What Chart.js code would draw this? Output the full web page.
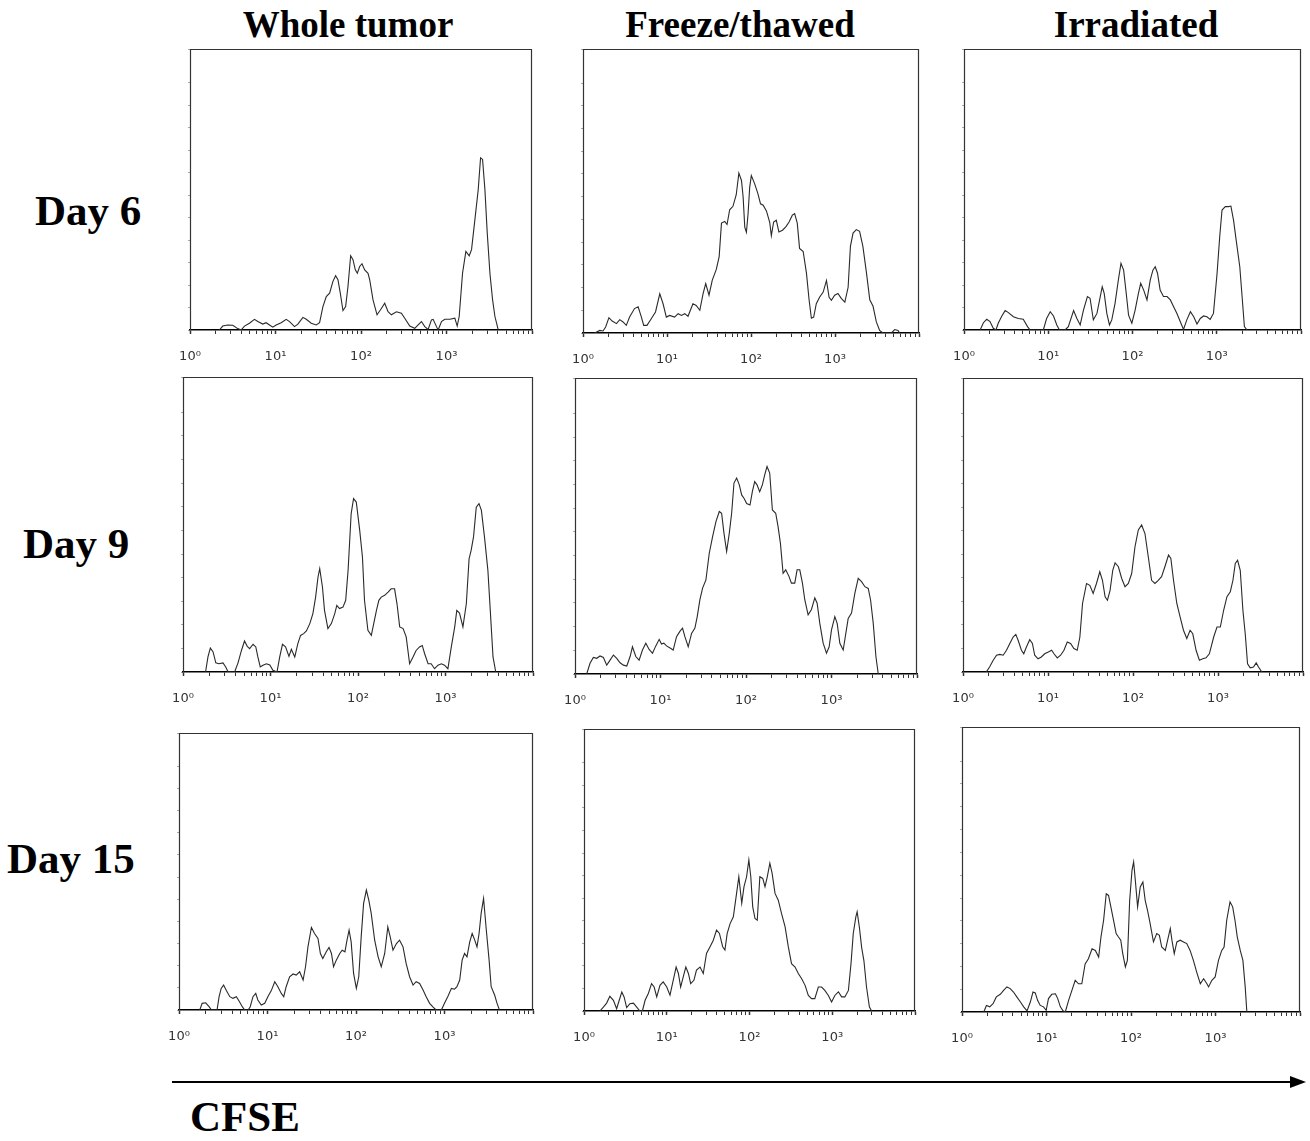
<!DOCTYPE html>
<html>
<head>
<meta charset="utf-8">
<title>CFSE dilution histograms</title>
<script src="https://cdn.jsdelivr.net/npm/chart.js@4.4.1/dist/chart.umd.min.js"></script>
<style>
  html, body { margin: 0; padding: 0; background: #fff; }
  #page { position: relative; width: 1310px; height: 1141px; overflow: hidden; background: #fff; }
  .lbl { position: absolute; font-family: "Liberation Serif", "Times New Roman", serif; font-weight: bold; color: #000; white-space: nowrap; }
  .col { font-size: 37px; line-height: 37px; width: 320px; text-align: center; }
  .row { font-size: 43px; line-height: 43px; }
  canvas.panel { position: absolute; }
</style>
</head>
<body>
<div id="page">
  <div class="lbl col" style="left:188px; top:6px;">Whole tumor</div>
  <div class="lbl col" style="left:580px; top:6px;">Freeze/thawed</div>
  <div class="lbl col" style="left:976px; top:6px;">Irradiated</div>

  <div class="lbl row" style="left:35px; top:189px;">Day 6</div>
  <div class="lbl row" style="left:23px; top:522px;">Day 9</div>
  <div class="lbl row" style="left:7px; top:837px;">Day 15</div>

  <svg style="position:absolute; left:0; top:1060px;" width="1310" height="40">
    <line x1="172" y1="22" x2="1294" y2="22" stroke="#000" stroke-width="2"/>
    <polygon points="1306,22 1290,16 1290,28" fill="#000"/>
  </svg>
  <div class="lbl row" style="left:190px; top:1095px;">CFSE</div>
</div>

<script>
// Histogrammes CFSE : x = canal (1024 canaux sur 4 décades log), y = nombre relatif d'événements.
// Chaque tableau = [canal, événements].
const DECADE_LABELS = ['10\u2070', '10\u00b9', '10\u00b2', '10\u00b3'];
const CH_PER_DECADE = 256;
const CH_MAX = 1024;

const wholeTumorDay6 = [[88,0],[98,1.4],[113,1.8],[128,1.7],[143,0.5],[153,0],[163,1.4],[178,2.4],[193,3.8],[203,3.0],[218,2.1],[228,2.6],[238,1.8],[248,1.0],[258,1.8],[273,2.6],[288,3.8],[298,3.0],[313,1.2],[323,2.1],[338,4.5],[348,3.8],[363,2.4],[378,1.8],[388,2.6],[398,8.3],[408,11.9],[418,13.1],[428,17.3],[436,19.3],[443,17.9],[450,13.1],[458,6.9],[466,8.3],[473,15.5],[481,26.4],[488,25.0],[495,21.4],[501,20.2],[508,22.6],[515,23.6],[523,21.4],[533,20.2],[538,17.9],[548,10.7],[560,5.4],[570,7.1],[583,9.5],[593,6.5],[603,5.4],[618,6.5],[633,6.0],[643,4.2],[658,1.4],[673,0.6],[683,1.8],[693,3.0],[703,1.2],[713,0.2],[723,3.6],[728,3.8],[738,1.2],[743,0],[753,3.0],[763,3.8],[778,3.8],[793,4.2],[800,1.4],[806,4.8],[816,20.2],[826,28.0],[836,26.4],[843,28.6],[853,39.3],[863,50.0],[870,61.3],[876,60.7],[883,50.0],[890,34.5],[898,20.2],[906,10.7],[913,4.8],[923,0]];

const freezeThawDay6 = [[36,0],[51,0.9],[61,0.7],[69,2.1],[79,5.4],[89,4.2],[102,3.3],[112,4.7],[122,3.9],[132,2.7],[142,5.6],[157,8.6],[168,9.2],[178,5.6],[185,2.7],[195,2.7],[208,5.0],[221,7.4],[234,13.8],[244,10.3],[254,5.6],[264,6.2],[279,5.6],[290,6.8],[300,6.2],[310,6.8],[320,5.9],[335,10.3],[345,9.7],[356,8.0],[366,13.9],[374,17.4],[384,13.3],[394,18.6],[406,22.3],[415,26.9],[422,38.7],[432,39.3],[439,38.2],[447,43.4],[457,44.6],[467,48.7],[475,56.3],[483,53.7],[488,47.9],[493,37.3],[498,35.5],[503,41.9],[508,51.3],[513,55.4],[523,52.6],[533,49.1],[541,45.5],[549,45.0],[559,43.0],[569,39.0],[574,34.3],[581,39.1],[589,39.7],[597,35.6],[608,36.2],[618,37.4],[628,39.1],[638,41.5],[645,42.0],[653,38.7],[660,29.8],[671,28.7],[681,21.1],[689,11.7],[696,5.2],[703,5.6],[711,10.3],[721,12.6],[732,14.4],[742,18.5],[750,12.6],[757,11.5],[767,13.3],[777,13.9],[787,12.2],[798,10.9],[808,16.1],[815,30.5],[823,35.2],[833,36.4],[843,35.8],[853,30.5],[864,21.1],[874,11.7],[884,9.4],[894,3.9],[904,0.9],[914,0],[940,0],[950,1.2],[960,0.9],[965,0]];

const irradiatedDay6 = [[49,0],[59,2.6],[69,3.8],[79,3.0],[89,0.6],[97,0],[104,2.4],[115,5.0],[125,6.9],[135,6.2],[150,4.7],[165,4.1],[180,3.8],[193,1.2],[201,0],[241,0],[251,4.1],[262,6.5],[272,5.0],[282,1.8],[290,0],[307,0],[317,1.2],[333,6.9],[343,4.1],[353,1.8],[363,7.1],[375,11.9],[383,11.3],[393,3.6],[404,5.9],[414,11.9],[420,15.4],[426,13.0],[434,5.9],[442,1.8],[449,3.6],[459,9.5],[469,17.8],[477,23.7],[485,21.3],[493,13.0],[500,5.3],[510,2.4],[520,7.1],[530,13.0],[537,16.6],[546,14.2],[556,10.7],[566,17.8],[574,21.3],[581,22.5],[588,20.2],[596,14.2],[606,11.9],[617,11.9],[627,10.7],[637,8.3],[647,5.9],[657,3.0],[667,0.2],[677,3.6],[688,6.5],[698,4.7],[708,2.1],[718,4.1],[728,5.0],[738,4.7],[748,3.8],[758,5.9],[769,20.2],[777,33.2],[784,42.7],[794,43.9],[804,43.9],[811,44.1],[819,39.1],[827,32.0],[838,22.5],[845,11.9],[852,1.2],[860,0]];

const wholeTumorDay9 = [[66,0],[73,5.1],[80,8.1],[88,6.8],[96,3.1],[105,2.8],[117,3.1],[125,1.7],[132,0],[151,0],[161,3.1],[171,7.3],[180,10.5],[188,8.7],[195,7.9],[205,9.4],[213,8.5],[219,5.1],[226,1.7],[234,2.3],[244,2.8],[254,2.4],[263,0.6],[275,0],[283,5.1],[291,9.4],[300,8.5],[310,5.3],[317,7.7],[327,5.1],[336,9.6],[344,12.4],[353,13.0],[361,13.9],[371,16.4],[380,19.8],[388,25.4],[395,32.2],[400,35.0],[408,28.8],[414,20.9],[424,14.7],[434,16.4],[444,19.8],[450,22.6],[458,21.5],[468,22.0],[476,24.3],[483,34.5],[492,53.7],[499,58.8],[507,57.6],[517,48.0],[525,39.0],[531,24.3],[541,14.1],[551,12.4],[558,16.4],[566,20.9],[573,24.3],[580,25.4],[590,26.0],[600,27.1],[609,28.2],[619,28.2],[626,23.2],[634,15.3],[644,14.7],[653,11.9],[663,2.8],[673,5.1],[682,7.3],[692,8.5],[700,9.0],[707,6.2],[717,2.8],[726,2.8],[736,1.1],[746,2.3],[756,2.8],[765,2.3],[775,1.1],[785,8.5],[795,15.3],[801,20.9],[809,20.0],[819,15.3],[829,23.2],[837,38.4],[843,41.2],[850,45.8],[858,55.9],[866,57.1],[873,54.8],[882,45.8],[892,34.5],[899,20.9],[907,5.1],[915,0]];

const freezeThawDay9 = [[35,0],[45,3.6],[55,5.6],[65,5.3],[75,6.1],[85,5.6],[95,3.0],[105,4.7],[115,6.4],[125,5.3],[135,3.8],[145,3.0],[155,2.7],[165,5.9],[172,9.2],[182,5.9],[192,4.7],[202,8.1],[212,10.4],[222,8.3],[232,7.0],[242,9.5],[252,11.7],[259,10.1],[266,10.4],[274,9.5],[286,8.7],[294,8.1],[304,12.6],[314,14.4],[322,15.5],[329,12.6],[339,9.2],[349,13.7],[359,15.5],[366,19.4],[374,25.1],[382,29.0],[392,31.8],[402,40.8],[412,46.4],[422,51.5],[432,54.9],[439,54.3],[446,47.6],[454,41.4],[462,47.6],[469,54.3],[476,64.5],[484,66.2],[492,63.9],[499,60.5],[506,59.4],[514,57.6],[524,57.1],[531,61.6],[538,65.0],[545,63.9],[553,61.6],[561,63.9],[568,67.3],[575,70.1],[583,67.9],[591,55.4],[601,54.3],[608,49.8],[615,44.2],[623,34.0],[631,35.2],[641,32.9],[648,30.7],[658,30.7],[665,35.2],[673,35.2],[681,30.7],[688,25.1],[698,20.0],[708,21.8],[718,25.7],[725,23.9],[733,17.1],[743,10.4],[753,7.0],[761,9.2],[768,14.9],[778,19.4],[785,17.1],[793,10.4],[803,8.1],[811,13.8],[818,18.8],[828,20.6],[838,27.3],[848,32.3],[858,31.2],[868,29.5],[878,28.9],[885,25.0],[893,17.1],[901,5.9],[908,0]];

const irradiatedDay9 = [[70,0],[80,1.7],[91,4.0],[101,5.7],[111,6.0],[121,5.7],[131,7.4],[141,9.7],[151,11.9],[159,12.8],[166,10.8],[176,7.4],[183,6.2],[191,8.5],[201,11.0],[209,9.7],[216,5.7],[226,4.5],[236,5.1],[246,6.2],[257,6.8],[267,7.4],[274,6.2],[284,4.8],[294,5.7],[304,7.4],[314,10.2],[324,9.7],[334,8.0],[344,7.4],[352,11.9],[360,23.3],[372,30.1],[382,29.5],[392,26.7],[402,30.1],[412,34.1],[420,31.2],[428,25.6],[435,24.4],[443,27.8],[451,34.6],[458,37.1],[468,35.8],[478,31.8],[488,29.0],[498,30.1],[508,33.5],[518,42.6],[528,48.3],[538,50.0],[548,47.1],[558,39.2],[568,31.2],[578,30.1],[588,31.2],[598,32.4],[608,35.8],[619,39.8],[626,38.6],[634,31.2],[644,23.3],[654,18.7],[664,14.2],[674,11.4],[684,14.2],[692,13.0],[702,7.4],[712,4.0],[722,4.5],[732,4.8],[742,6.2],[755,11.9],[765,15.3],[775,15.3],[785,21.0],[795,25.6],[805,27.3],[813,31.2],[820,36.9],[827,38.0],[835,34.6],[843,21.0],[850,13.0],[857,2.8],[865,1.4],[875,1.7],[883,3.1],[890,1.7],[900,0]];

const wholeTumorDay15 = [[60,0],[67,2.4],[77,2.6],[87,1.2],[94,0],[110,0],[116,4.8],[122,7.8],[129,9.0],[137,7.0],[147,4.8],[156,4.2],[166,4.8],[175,3.0],[183,1.2],[190,0],[200,0],[206,1.2],[214,4.8],[222,6.0],[228,3.6],[238,1.8],[248,2.4],[257,4.8],[267,7.0],[277,10.2],[286,8.4],[296,6.0],[303,4.8],[310,8.4],[320,12.0],[330,13.0],[339,12.6],[349,13.8],[359,10.8],[366,15.6],[373,22.8],[383,29.8],[392,27.6],[402,25.8],[409,20.4],[416,18.6],[426,21.0],[434,22.6],[441,20.4],[447,15.6],[455,18.0],[465,20.4],[472,21.6],[480,21.0],[486,25.2],[492,28.8],[498,24.6],[505,13.2],[513,7.8],[520,12.0],[527,26.4],[534,38.5],[542,43.3],[549,39.7],[556,34.9],[566,25.2],[576,19.2],[585,15.6],[595,20.4],[604,30.0],[611,26.4],[619,21.6],[629,24.0],[638,25.2],[648,22.8],[657,16.8],[667,12.0],[677,9.0],[686,10.2],[696,9.6],[706,7.2],[715,4.8],[725,2.4],[735,1.0],[744,0],[759,0],[768,2.4],[778,5.0],[788,7.8],[797,7.5],[804,8.4],[812,10.8],[819,18.0],[826,20.4],[833,19.2],[841,24.6],[848,27.6],[855,25.4],[862,22.8],[868,27.6],[874,34.9],[881,40.3],[889,28.8],[897,18.0],[903,8.4],[913,5.4],[920,2.4],[927,0]];

const freezeThawDay15 = [[49,0],[60,1.4],[70,2.8],[80,5.2],[91,3.8],[101,0.8],[109,3.8],[117,6.7],[124,5.0],[132,1.2],[142,2.6],[153,2.8],[163,1.4],[173,0],[181,0.2],[189,3.8],[199,6.2],[209,9.7],[217,8.5],[225,5.0],[235,9.1],[245,10.3],[256,8.5],[266,5.6],[276,10.9],[285,15.6],[292,13.3],[299,8.5],[307,12.1],[315,15.6],[323,13.3],[330,9.7],[340,10.9],[348,14.5],[359,15.6],[369,13.3],[379,20.4],[390,22.8],[400,25.1],[410,28.7],[419,27.5],[429,22.8],[436,21.6],[443,27.5],[452,31.0],[462,33.4],[472,41.7],[479,47.6],[488,38.2],[495,44.1],[503,47.6],[510,53.6],[516,47.6],[522,36.9],[529,32.8],[536,32.2],[544,47.6],[553,47.0],[560,44.1],[567,47.6],[575,52.4],[582,48.8],[591,41.7],[601,39.3],[611,34.6],[622,29.9],[632,22.8],[642,16.8],[653,15.6],[663,13.3],[673,11.5],[684,9.1],[694,5.5],[704,4.4],[714,4.4],[725,8.5],[735,8.5],[745,7.3],[756,5.5],[766,3.2],[776,5.5],[787,6.8],[797,5.0],[807,5.0],[818,7.3],[826,16.8],[833,27.5],[841,33.4],[845,35.2],[852,29.6],[859,22.5],[866,17.8],[874,8.5],[883,1.4],[890,0]];

const irradiatedDay15 = [[66,0],[74,2.3],[84,1.8],[94,2.9],[104,5.3],[116,6.2],[126,7.6],[136,8.8],[146,8.2],[156,7.0],[166,5.3],[177,3.5],[187,1.8],[197,0.4],[207,3.5],[215,7.0],[222,6.7],[229,4.1],[237,2.3],[247,1.8],[255,0.6],[262,4.7],[272,6.2],[283,6.4],[290,4.7],[298,1.8],[306,0.4],[313,0],[323,4.1],[333,7.6],[343,11.1],[353,9.9],[363,9.9],[373,16.9],[383,18.7],[394,22.2],[404,21.6],[414,19.3],[421,26.3],[429,32.2],[437,41.5],[444,40.9],[451,36.9],[459,32.2],[467,27.5],[474,26.3],[481,25.2],[487,20.5],[495,15.8],[501,18.1],[508,39.2],[515,49.7],[520,52.7],[525,46.3],[532,36.9],[540,43.9],[548,45.6],[555,39.2],[562,35.7],[570,31.0],[580,24.6],[590,27.5],[598,26.9],[605,22.8],[616,21.6],[623,25.2],[631,29.3],[636,25.2],[643,20.5],[651,24.6],[661,25.2],[671,24.6],[681,24.0],[691,21.6],[701,18.1],[711,14.0],[722,9.9],[732,11.7],[742,9.9],[747,8.8],[757,11.1],[767,12.3],[777,18.1],[787,21.6],[794,22.8],[802,32.2],[812,38.6],[820,36.9],[827,32.2],[834,26.3],[843,21.6],[851,18.1],[858,8.8],[863,0]];

// Emplacement de chaque cadre sur la page : [gauche, haut, droite, ligne de base].
const PANELS = [
  { data: wholeTumorDay6,   box: [190, 49, 532, 330] },
  { data: freezeThawDay6,   box: [583, 49, 919, 333] },
  { data: irradiatedDay6,   box: [964, 49, 1301, 330] },
  { data: wholeTumorDay9,   box: [183, 377, 533, 672] },
  { data: freezeThawDay9,   box: [575, 378, 917, 674] },
  { data: irradiatedDay9,   box: [963, 378, 1303, 672] },
  { data: wholeTumorDay15,  box: [179, 733, 533, 1010] },
  { data: freezeThawDay15,  box: [584, 729, 915, 1011] },
  { data: irradiatedDay15,  box: [962, 727, 1300, 1012] }
];

const PAD = 16;   // marge du canvas autour du cadre (place pour l'étiquette 10⁰)
const AXIS_H = 40;

function isDecade(v) {
  const d = v / CH_PER_DECADE;
  return Math.abs(d - Math.round(d)) < 1e-6;
}

// Graduations log : 1..9 x 10^n, en canaux.
function logTicks() {
  const ticks = [];
  for (let d = 0; d <= DECADE_LABELS.length; d++) {
    for (let k = 1; k <= 9; k++) {
      const v = CH_PER_DECADE * (d + Math.log10(k));
      if (v > CH_MAX + 1e-6) break;
      ticks.push({ value: v });
    }
  }
  return ticks;
}

// Cadre gris (haut, gauche, droite) ; le bas est la bordure de l'axe x.
const frame = {
  id: 'frame',
  beforeDatasetsDraw(chart) {
    const a = chart.chartArea;
    const ctx = chart.ctx;
    ctx.save();
    ctx.strokeStyle = '#333';
    ctx.lineWidth = 1.2;
    ctx.beginPath();
    ctx.moveTo(a.left + 0.5, a.bottom);
    ctx.lineTo(a.left + 0.5, a.top + 0.5);
    ctx.lineTo(a.right - 0.5, a.top + 0.5);
    ctx.lineTo(a.right - 0.5, a.bottom);
    ctx.stroke();
    ctx.restore();
  }
};

function crear(p) {
  const [l, t, r, b] = p.box;
  const canvas = document.createElement('canvas');
  canvas.className = 'panel';
  canvas.width = (r - l) + 2 * PAD;
  canvas.height = (b - t) + PAD + AXIS_H;
  canvas.style.left = (l - PAD) + 'px';
  canvas.style.top = (t - PAD) + 'px';
  document.getElementById('page').appendChild(canvas);

  new Chart(canvas, {
    type: 'line',
    data: {
      datasets: [{
        data: p.data.map(function (pt) { return { x: pt[0], y: pt[1] }; }),
        borderColor: '#2a2a2a',
        borderWidth: 1.1,
        pointRadius: 0,
        tension: 0,
        fill: false
      }]
    },
    options: {
      responsive: false,
      animation: false,
      events: [],
      layout: { padding: { left: PAD, top: PAD, right: PAD, bottom: 0 } },
      plugins: { legend: { display: false }, tooltip: { enabled: false } },
      scales: {
        x: {
          type: 'linear',
          min: 0,
          max: CH_MAX,
          afterBuildTicks: function (s) { s.ticks = logTicks(); },
          afterFit: function (s) { s.height = AXIS_H; s.paddingLeft = 0; s.paddingRight = 0; },
          grid: {
            drawOnChartArea: false,
            drawTicks: true,
            tickLength: 4,
            tickColor: '#333',
            tickWidth: function (c) { return c.tick && isDecade(c.tick.value) ? 1.5 : 1; }
          },
          border: { display: true, color: '#000', width: 1.6 },
          ticks: {
            autoSkip: false,
            maxRotation: 0,
            minRotation: 0,
            padding: 15,
            color: '#333',
            font: { family: 'DejaVu Sans, sans-serif', size: 13 },
            callback: function (v) {
              return (isDecade(v) && v < CH_MAX - 1) ? DECADE_LABELS[Math.round(v / CH_PER_DECADE)] : '';
            }
          }
        },
        y: {
          min: 0,
          max: 100,
          afterFit: function (s) { s.width = 0; s.paddingTop = 0; s.paddingBottom = 0; },
          ticks: { display: false, stepSize: 8 },
          grid: { drawOnChartArea: false, drawTicks: true, tickLength: 2, tickColor: '#aaa' },
          border: { display: false }
        }
      }
    },
    plugins: [frame]
  });
}

PANELS.forEach(crear);
</script>
</body>
</html>
